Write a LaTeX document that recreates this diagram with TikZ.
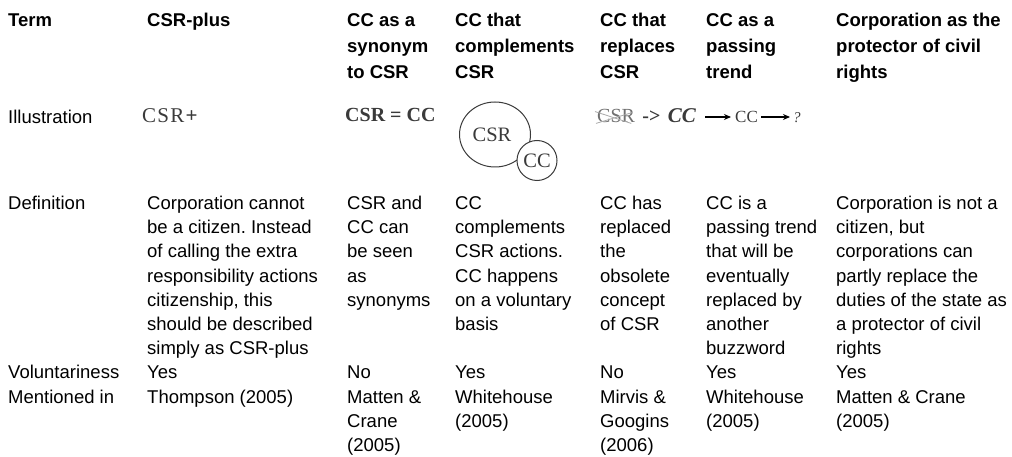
\documentclass[tikz,border=0pt]{standalone}
\usepackage{fontspec}
\setmainfont{Liberation Sans}
\newfontfamily\illserif{Liberation Serif}
\usetikzlibrary{shapes.geometric,arrows.meta}
\definecolor{ink}{HTML}{3A3A3A}
\definecolor{faded}{HTML}{707070}
\frenchspacing
% a left-aligned block of lines whose baseline is that of its first line
\newcommand\lines[1]{\begin{tabular}[t]{@{}l@{}}#1\end{tabular}}
\begin{document}
\begin{tikzpicture}[x=1pt,y=-1pt,
  cell/.style={anchor=base west, inner sep=0pt,
    font=\fontsize{18.5}{24.2}\selectfont},
  head/.style={anchor=base west, inner sep=0pt,
    font=\fontsize{18.5}{26}\selectfont\bfseries},
  ill/.style={anchor=base west, inner sep=0pt, text=ink,
    font=\fontsize{20}{20}\selectfont\illserif},
  xmark/.style={draw=faded!60, line width=0.8pt},
  bubble/.style={draw=ink, line width=1pt, inner sep=0pt, text=ink,
    font=\fontsize{20.5}{20.5}\selectfont\illserif},
  trendarrow/.style={draw=black, line width=1.3pt,
    -{Stealth[length=7pt,width=6pt]}}]
\useasboundingbox (0,0) rectangle (1012,457);

% header row
\node[head] (hTerm) at (8,27) {Term};
\node[head] (hPlus) at (147,27) {CSR-plus};
\node[head] (hSyn)  at (347,27) {\lines{CC as a\\synonym\\to CSR}};
\node[head] (hComp) at (455,27) {\lines{CC that\\complements\\CSR}};
\node[head] (hRepl) at (600,27) {\lines{CC that\\replaces\\CSR}};
\node[head] (hPass) at (706,27) {\lines{CC as a\\passing\\trend}};
\node[head] (hProt) at (836,27) {\lines{Corporation as the\\protector of civil\\rights}};

% illustration row
\node[cell] (lIll) at (8,123.5) {Illustration};
\node[ill, font=\fontsize{21}{21}\selectfont\illserif\addfontfeature{LetterSpace=6}] (iPlus) at (142,123) {CSR\textbf{+}};
\node[ill, font=\fontsize{20}{20}\selectfont\illserif\bfseries] (iSyn) at (345,122) {CSR = CC};
\node[bubble, ellipse, minimum width=71pt, minimum height=65pt] (eCSR) at (495,134.5) {CSR\hspace*{6pt}};
\node[bubble, circle, minimum size=40pt, fill=white] (cCC) at (537,160.5) {CC};

\node[ill, text=faded] (iOld) at (597,123) {CSR};
\draw[xmark] ([shift={(-2pt,-2pt)}]iOld.north west) -- ([xshift=-4pt]iOld.south east);
\draw[xmark] ([xshift=-1pt]iOld.south west) -- ([shift={(-3pt,-3pt)}]iOld.north east);
\node[ill, font=\fontsize{20}{20}\selectfont\illserif\bfseries] (iTo) at ([xshift=7pt]iOld.base east) {->};
\node[ill, font=\fontsize{21}{21}\selectfont\illserif\bfseries\itshape] (iNew) at ([xshift=7pt]iTo.base east) {CC};

\coordinate (aStart) at (705,117);
\node[ill, font=\fontsize{17}{17}\selectfont\illserif] (iCC) at (735,123) {CC};
\node[ill, font=\fontsize{15}{15}\selectfont\illserif\itshape] (iQ) at (793,123) {?};
\draw[trendarrow] (aStart) -- ([xshift=-4pt]aStart -| iCC.west);
\draw[trendarrow] ([xshift=3pt]aStart -| iCC.east) -- ([xshift=-3pt]aStart -| iQ.west);

% definition row
\node[cell] (lDef) at (8,209.5) {Definition};
\node[cell] (dPlus) at (147,209.5) {\lines{Corporation cannot\\be a citizen. Instead\\of calling the extra\\responsibility actions\\citizenship, this\\should be described\\simply as CSR-plus}};
\node[cell] (dSyn)  at (347,209.5) {\lines{CSR and\\CC can\\be seen\\as\\synonyms}};
\node[cell] (dComp) at (455,209.5) {\lines{CC\\complements\\CSR actions.\\CC happens\\on a voluntary\\basis}};
\node[cell] (dRepl) at (600,209.5) {\lines{CC has\\replaced\\the\\obsolete\\concept\\of CSR}};
\node[cell] (dPass) at (706,209.5) {\lines{CC is a\\passing trend\\that will be\\eventually\\replaced by\\another\\buzzword}};
\node[cell] (dProt) at (836,209.5) {\lines{Corporation is not a\\citizen, but\\corporations can\\partly replace the\\duties of the state as\\a protector of civil\\rights}};

% voluntariness row
\node[cell] (lVol) at (8,378.9) {Voluntariness};
\node[cell] (vPlus) at (147,378.9) {Yes};
\node[cell] (vSyn)  at (347,378.9) {No};
\node[cell] (vComp) at (455,378.9) {Yes};
\node[cell] (vRepl) at (600,378.9) {No};
\node[cell] (vPass) at (706,378.9) {Yes};
\node[cell] (vProt) at (836,378.9) {Yes};

% mentioned-in row
\node[cell] (lRef) at (8,403.1) {Mentioned in};
\node[cell] (rPlus) at (147,403.1) {Thompson (2005)};
\node[cell] (rSyn)  at (347,403.1) {\lines{Matten \&\\Crane\\(2005)}};
\node[cell] (rComp) at (455,403.1) {\lines{Whitehouse\\(2005)}};
\node[cell] (rRepl) at (600,403.1) {\lines{Mirvis \&\\Googins\\(2006)}};
\node[cell] (rPass) at (706,403.1) {\lines{Whitehouse\\(2005)}};
\node[cell] (rProt) at (836,403.1) {\lines{Matten \& Crane\\(2005)}};
\end{tikzpicture}
\end{document}
